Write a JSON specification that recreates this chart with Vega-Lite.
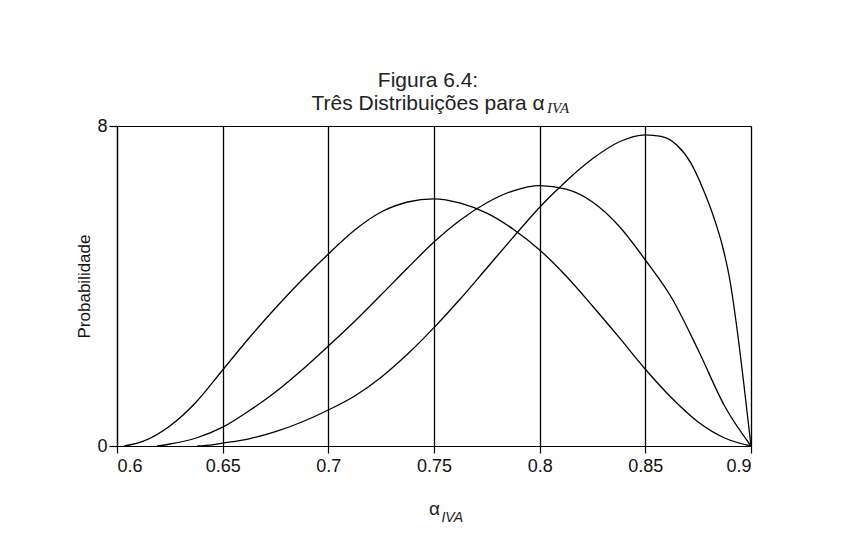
{
  "$schema": "https://vega.github.io/schema/vega-lite/v6.json",
  "width": 634,
  "height": 320,
  "autosize": {"type": "none"},
  "padding": {"left": 117, "top": 126, "right": 101, "bottom": 103},
  "background": "white",
  "config": {
    "view": {"stroke": "black", "strokeWidth": 1},
    "font": "Liberation Sans",
    "title": {"font": "Liberation Sans", "fontSize": 21, "fontWeight": "normal", "color": "#222", "lineHeight": 23, "offset": 4, "dy": 17, "dx": -6}
  },
  "title": {"text": ["Figura 6.4:", "Três Distribuições para α"]},
  "datasets": {
    "curves": [
      {"d": "A", "x": 0.6035, "p": 0},
      {"d": "A", "x": 0.6125, "p": 0.12},
      {"d": "A", "x": 0.625, "p": 0.5},
      {"d": "A", "x": 0.6375, "p": 1.1},
      {"d": "A", "x": 0.65, "p": 1.9},
      {"d": "A", "x": 0.6625, "p": 2.7},
      {"d": "A", "x": 0.675, "p": 3.45},
      {"d": "A", "x": 0.6875, "p": 4.15},
      {"d": "A", "x": 0.7, "p": 4.8},
      {"d": "A", "x": 0.7125, "p": 5.4},
      {"d": "A", "x": 0.725, "p": 5.85},
      {"d": "A", "x": 0.7375, "p": 6.1},
      {"d": "A", "x": 0.75, "p": 6.18},
      {"d": "A", "x": 0.7625, "p": 6.07},
      {"d": "A", "x": 0.775, "p": 5.82},
      {"d": "A", "x": 0.7875, "p": 5.42},
      {"d": "A", "x": 0.8, "p": 4.9},
      {"d": "A", "x": 0.8125, "p": 4.25},
      {"d": "A", "x": 0.825, "p": 3.5},
      {"d": "A", "x": 0.8375, "p": 2.72},
      {"d": "A", "x": 0.85, "p": 1.92},
      {"d": "A", "x": 0.8625, "p": 1.2},
      {"d": "A", "x": 0.875, "p": 0.6},
      {"d": "A", "x": 0.8875, "p": 0.2},
      {"d": "A", "x": 0.9, "p": 0},
      {"d": "B", "x": 0.619, "p": 0},
      {"d": "B", "x": 0.625, "p": 0.05},
      {"d": "B", "x": 0.6375, "p": 0.2},
      {"d": "B", "x": 0.65, "p": 0.47},
      {"d": "B", "x": 0.6625, "p": 0.88},
      {"d": "B", "x": 0.675, "p": 1.35},
      {"d": "B", "x": 0.6875, "p": 1.9},
      {"d": "B", "x": 0.7, "p": 2.5},
      {"d": "B", "x": 0.7125, "p": 3.12},
      {"d": "B", "x": 0.725, "p": 3.78},
      {"d": "B", "x": 0.7375, "p": 4.45},
      {"d": "B", "x": 0.75, "p": 5.1},
      {"d": "B", "x": 0.7625, "p": 5.65},
      {"d": "B", "x": 0.775, "p": 6.08},
      {"d": "B", "x": 0.7875, "p": 6.38},
      {"d": "B", "x": 0.8, "p": 6.51},
      {"d": "B", "x": 0.8125, "p": 6.42},
      {"d": "B", "x": 0.825, "p": 6.1},
      {"d": "B", "x": 0.8375, "p": 5.5},
      {"d": "B", "x": 0.85, "p": 4.65},
      {"d": "B", "x": 0.8625, "p": 3.7},
      {"d": "B", "x": 0.875, "p": 2.4},
      {"d": "B", "x": 0.8875, "p": 1.0},
      {"d": "B", "x": 0.9, "p": 0},
      {"d": "C", "x": 0.638, "p": 0},
      {"d": "C", "x": 0.645, "p": 0.03},
      {"d": "C", "x": 0.65, "p": 0.07},
      {"d": "C", "x": 0.6625, "p": 0.18},
      {"d": "C", "x": 0.675, "p": 0.36},
      {"d": "C", "x": 0.6875, "p": 0.6},
      {"d": "C", "x": 0.7, "p": 0.9},
      {"d": "C", "x": 0.7125, "p": 1.25},
      {"d": "C", "x": 0.725, "p": 1.72},
      {"d": "C", "x": 0.7375, "p": 2.3},
      {"d": "C", "x": 0.75, "p": 2.96},
      {"d": "C", "x": 0.7625, "p": 3.68},
      {"d": "C", "x": 0.775, "p": 4.45},
      {"d": "C", "x": 0.7875, "p": 5.22},
      {"d": "C", "x": 0.8, "p": 5.97},
      {"d": "C", "x": 0.8125, "p": 6.62},
      {"d": "C", "x": 0.825, "p": 7.18},
      {"d": "C", "x": 0.8375, "p": 7.6},
      {"d": "C", "x": 0.85, "p": 7.78},
      {"d": "C", "x": 0.8575, "p": 7.74},
      {"d": "C", "x": 0.865, "p": 7.52},
      {"d": "C", "x": 0.8715, "p": 7.08},
      {"d": "C", "x": 0.8775, "p": 6.4},
      {"d": "C", "x": 0.8825, "p": 5.7},
      {"d": "C", "x": 0.8865, "p": 5.0},
      {"d": "C", "x": 0.89, "p": 4.15},
      {"d": "C", "x": 0.8932, "p": 3.0},
      {"d": "C", "x": 0.8965, "p": 1.6},
      {"d": "C", "x": 0.9, "p": 0}
    ]
  },
  "layer": [
    {
      "data": {"name": "curves"},
      "mark": {"type": "line", "color": "black", "strokeWidth": 1.3, "interpolate": "monotone"},
      "encoding": {
        "x": {
          "field": "x", "type": "quantitative",
          "scale": {"domain": [0.6, 0.9], "nice": false, "zero": false},
          "axis": {
            "values": [0.6, 0.65, 0.7, 0.75, 0.8, 0.85, 0.9],
            "format": ".2~f",
            "grid": true, "gridColor": "black", "gridOpacity": 1, "gridWidth": 1.3,
            "domainColor": "black", "domainWidth": 1.2,
            "tickColor": "black", "tickSize": 7, "tickWidth": 1.2,
            "labelFont": "Liberation Sans", "labelFontSize": 18, "labelColor": "#111", "labelPadding": 4,
            "title": "α", "titleFont": "Liberation Sans", "titleFontSize": 19, "titleFontWeight": "normal", "titleColor": "#222", "titlePadding": 24
          }
        },
        "y": {
          "field": "p", "type": "quantitative",
          "scale": {"domain": [0, 8], "nice": false},
          "axis": {
            "values": [0, 8], "grid": false,
            "domainColor": "black", "domainWidth": 1.2,
            "tickColor": "black", "tickSize": 8, "tickWidth": 1.2,
            "labelFont": "Liberation Sans", "labelFontSize": 18, "labelColor": "#111", "labelPadding": 2,
            "title": "Probabilidade", "titleFont": "Liberation Sans", "titleFontSize": 17, "titleFontWeight": "normal", "titleColor": "#111", "titlePadding": 3
          }
        },
        "detail": {"field": "d"}
      }
    },
    {
      "data": {"values": [{"label": "IVA"}]},
      "mark": {"type": "text", "align": "left", "baseline": "alphabetic", "font": "Liberation Sans", "fontStyle": "italic", "fontSize": 14, "color": "#222"},
      "encoding": {
        "text": {"field": "label"},
        "x": {"datum": 0.7535},
        "y": {"datum": -1.9}
      }
    },
    {
      "data": {"values": [{"label": "IVA"}]},
      "mark": {"type": "text", "align": "left", "baseline": "alphabetic", "font": "Liberation Serif", "fontStyle": "italic", "fontSize": 15, "color": "#222"},
      "encoding": {
        "text": {"field": "label"},
        "x": {"datum": 0.8035},
        "y": {"datum": 8.32}
      }
    }
  ]
}
